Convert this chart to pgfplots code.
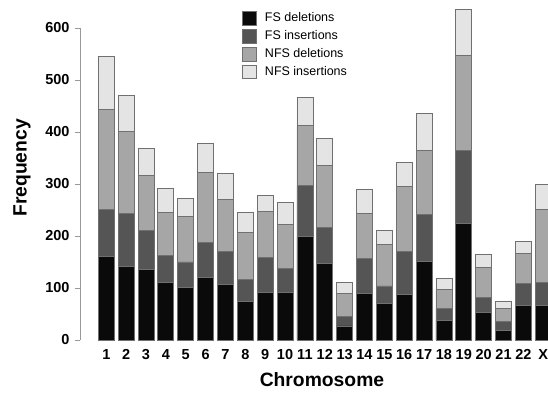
\documentclass[border=0pt]{standalone}
\usepackage{pgfplots}
\pgfplotsset{compat=1.18}
\usepackage{pgfplotstable}
\usepackage{fontspec}
\setmainfont{Liberation Sans}
\definecolor{fsdel}{HTML}{0A0A0A}
\definecolor{fsins}{HTML}{555555}
\definecolor{nfsdel}{HTML}{A6A6A6}
\definecolor{nfsins}{HTML}{E4E4E4}
\definecolor{edge}{HTML}{707070}
\pgfplotstableread{
x fsdel fsins nfsdel nfsins
1 160 91 192 103
2 142 101 158 69
3 135 75 107 51
4 110 53 83 45
5 101 49 87 35
6 120 67 135 56
7 106 65 99 51
8 74 43 90 39
9 92 67 88 31
10 91 47 85 41
11 199 98 115 55
12 147 70 119 51
13 27 19 43 22
14 90 67 86 46
15 70 34 80 27
16 87 84 124 47
17 151 90 123 71
18 38 23 36 21
19 224 141 183 88
20 53 28 59 24
21 18 18 25 14
22 67 42 58 22
23 66 44 141 48
}\data
\begin{document}
\begin{tikzpicture}[x=1pt,y=1pt]
\path[use as bounding box] (0,0) rectangle (548,395);
\begin{axis}[
  at={(80pt,55pt)}, anchor=south west,
  scale only axis, width=468pt, height=340pt,
  xmin=-0.324, xmax=23.24, ymin=0, ymax=653.8,
  clip=false,
  ybar stacked, bar width=16pt,
  axis line style={draw=none},
  /pgf/number format/assume math mode=true,
  xtick={1,...,23},
  xticklabels={1,2,3,4,5,6,7,8,9,10,11,12,13,14,15,16,17,18,19,20,21,22,X},
  major x tick style={draw=none},
  ytick={0,100,...,600},
  tick align=outside, major tick length=5pt,
  major y tick style={draw=gray!80, line width=0.8pt},
  xtick pos=bottom, ytick pos=left,
  tick label style={font=\bfseries\fontsize{14.5}{14.5}\selectfont},
  xticklabel style={yshift=-0.5pt},
  yticklabel style={xshift=-2pt},
  xlabel={\bfseries Chromosome},
  ylabel={\bfseries Frequency},
  label style={font=\bfseries\fontsize{19.3}{19.3}\selectfont},
  xlabel style={at={(axis description cs:0.517,0)}, anchor=center, yshift=-40pt},
  ylabel style={at={(axis description cs:-0.124,0.506)}, anchor=center, rotate=0},
  legend style={at={(axis description cs:0.3462,0.969)}, anchor=north west, draw=none, fill=none,
    font=\fontsize{12.5}{14}\selectfont, row sep=3.3pt, inner sep=0pt},
  legend cell align=left,
  legend image code/.code={\draw[#1, draw=edge, line width=0.7pt] (0pt,-7pt) rectangle (14pt,6.5pt); \path (20pt,0pt);},
  every axis plot/.append style={draw=edge, line width=0.8pt},
]
\addplot[fill=fsdel] table[x=x,y=fsdel]{\data};
\addplot[fill=fsins] table[x=x,y=fsins]{\data};
\addplot[fill=nfsdel] table[x=x,y=nfsdel]{\data};
\addplot[fill=nfsins] table[x=x,y=nfsins]{\data};
\legend{FS deletions, FS insertions, NFS deletions, NFS insertions}
\draw[gray!80, line width=0.8pt] (axis cs:-0.324,0) -- (axis cs:-0.324,600);
\end{axis}
\end{tikzpicture}
\end{document}
